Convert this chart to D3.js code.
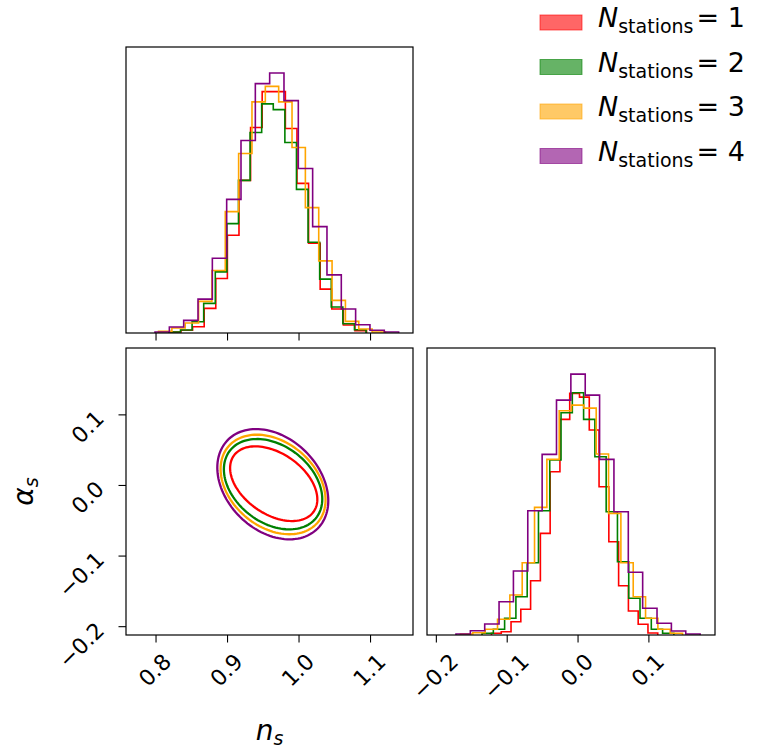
<!DOCTYPE html>
<html>
<head>
<meta charset="utf-8">
<script src="https://cdn.jsdelivr.net/npm/d3@7"></script>
<style>
  body { margin: 0; background: #fff; }
  svg text { font-family: "DejaVu Sans", sans-serif; fill: #000; }
</style>
</head>
<body>
<svg id="chart" width="760" height="749"></svg>
<script>
// ---- values ----
const stations = [1, 2, 3, 4];
const colors = ["red", "green", "orange", "purple"];

// n_s histograms: first bin edge, bin width, counts per bin
const nsStart = [0.8194, 0.8187, 0.8042, 0.7993];
const nsWidth = [0.01622, 0.01622, 0.01867, 0.02004];
const nsCounts = [
  [1, 2.7, 6.3, 24.7, 54.7, 98, 153, 206, 242, 242, 205, 150, 90, 44, 24, 8, 2.3],
  [1, 3, 11.3, 29.7, 61.3, 109.7, 153, 201, 229.7, 224, 191, 144, 91, 54, 26, 9.3, 3.3],
  [1.7, 5, 10, 31.7, 62.7, 121.7, 180, 231.7, 247.3, 231.7, 186, 125.7, 72.3, 32.7, 11.7, 4, 1],
  [1, 6, 12.7, 34, 75, 134, 193, 250, 260.7, 233, 165, 106.7, 58.3, 24, 8.3, 2.7, 1]
];

// alpha_s histograms
const asStart = [-0.1215, -0.1348, -0.1652, -0.1716];
const asWidth = [0.013805, 0.015926, 0.017412, 0.020269];
const asCounts = [
  [1.7, 3.3, 13.3, 25.7, 54.3, 101.7, 163.3, 215.7, 241.7, 238, 205, 148.3, 93.3, 49.3, 24, 10.7, 2],
  [1.7, 5.7, 16.7, 38.3, 72.3, 124.3, 175, 222.3, 242.3, 215.7, 178.3, 123.3, 73.3, 36.7, 16.7, 5.7, 1.7],
  [1, 2.3, 5.7, 15.7, 40, 72.3, 127.7, 175.7, 224.3, 230, 227, 181, 121.7, 72.3, 38.3, 16.7, 5.7, 1.7],
  [1, 4.3, 11, 33.3, 64, 124.3, 180.7, 235, 261, 240, 175.7, 123.3, 62.7, 26.7, 11.7, 4, 1]
];

// 2D contour (single level) as ellipse: centre, half extents, correlation
const ctrNs = [0.9653, 0.9644, 0.9644, 0.9640];
const ctrAs = [0.0018, 0.0011, 0.0007, 0.0011];
const halfNs = [0.0610, 0.0688, 0.0734, 0.0776];
const halfAs = [0.0529, 0.0640, 0.0705, 0.0781];
const rho = [-0.42, -0.33, -0.31, -0.30];

const nsTicks = [0.8, 0.9, 1.0, 1.1];
const asTicks = [-0.2, -0.1, 0.0, 0.1];
const nsRange = [0.7587, 1.1601];
const asRange = [-0.2125, 0.194];

// ---- layout ----
const svg = d3.select("#chart");
const tl = { x0: 126, x1: 413, y0: 47, y1: 333 };   // n_s histogram
const bl = { x0: 126, x1: 413, y0: 348, y1: 635 };  // contour
const br = { x0: 427, x1: 715, y0: 348, y1: 635 };  // alpha_s histogram
const tickFont = 22, tickLen = 7.5;

const xNs = d3.scaleLinear().domain(nsRange).range([tl.x0, tl.x1]);
const yAs = d3.scaleLinear().domain(asRange).range([bl.y1, bl.y0]);
const xAs = d3.scaleLinear().domain(asRange).range([br.x0, br.x1]);

const nsMax = d3.max(nsCounts[3]);
const asMax = d3.max(asCounts[3]);
const yNsHist = d3.scaleLinear().domain([0, 1.1 * nsMax]).range([tl.y1, tl.y0]);
const yAsHist = d3.scaleLinear().domain([0, 1.1 * asMax]).range([br.y1, br.y0]);

const fmt = d3.format(".1f");

function stepPoints(start, width, counts) {
  const pts = [[start, 0]];
  counts.forEach((c, i) => pts.push([start + i * width, c]));
  pts.push([start + counts.length * width, 0]);
  return pts;
}

function drawHist(starts, widths, counts, xs, ys) {
  const line = d3.line()
    .x(d => xs(d[0]))
    .y(d => ys(d[1]))
    .curve(d3.curveStepAfter);
  svg.append("g")
    .selectAll("path")
    .data(stations.map((s, i) => stepPoints(starts[i], widths[i], counts[i])))
    .join("path")
    .attr("d", line)
    .attr("fill", "none")
    .attr("stroke", (d, i) => colors[i])
    .attr("stroke-width", 1.6);
}

// histograms
drawHist(nsStart, nsWidth, nsCounts, xNs, yNsHist);
drawHist(asStart, asWidth, asCounts, xAs, yAsHist);

// contours
const ellipse = i => d3.range(0, 120).map(k => {
  const t = k / 120 * 2 * Math.PI;
  return [
    ctrNs[i] + halfNs[i] * Math.cos(t),
    ctrAs[i] + halfAs[i] * (rho[i] * Math.cos(t) + Math.sqrt(1 - rho[i] * rho[i]) * Math.sin(t))
  ];
});
svg.append("g")
  .selectAll("path")
  .data(stations.map((s, i) => ellipse(i)))
  .join("path")
  .attr("d", d3.line().x(d => xNs(d[0])).y(d => yAs(d[1])).curve(d3.curveLinearClosed))
  .attr("fill", "none")
  .attr("stroke", (d, i) => colors[i])
  .attr("stroke-width", 2.3);

// frames
[tl, bl, br].forEach(p => {
  svg.append("rect")
    .attr("x", p.x0).attr("y", p.y0)
    .attr("width", p.x1 - p.x0).attr("height", p.y1 - p.y0)
    .attr("fill", "none").attr("stroke", "#000").attr("stroke-width", 1.2);
});

// axes
function styleAxis(g) {
  g.select(".domain").remove();
  g.selectAll(".tick line").attr("stroke", "#000").attr("stroke-width", 1.1);
  g.selectAll("text").style("font-size", tickFont + "px").attr("font-family", "DejaVu Sans").attr("fill", "#000");
}

// top-left: ticks only
svg.append("g")
  .attr("transform", `translate(0,${tl.y1})`)
  .call(d3.axisBottom(xNs).tickValues(nsTicks).tickSize(tickLen).tickFormat(""))
  .call(styleAxis);

function rotateBottomLabels(g) {
  g.selectAll(".tick text").each(function() {
    const t = d3.select(this);
    t.attr("y", null).attr("dy", null)
      .attr("text-anchor", "middle")
      .attr("dominant-baseline", "central");
    const half = (this.getComputedTextLength() + tickFont) / (2 * Math.SQRT2);
    t.attr("transform", `translate(-1,${15 + half}) rotate(-45)`);
  });
}

svg.append("g")
  .attr("transform", `translate(0,${bl.y1})`)
  .call(d3.axisBottom(xNs).tickValues(nsTicks).tickSize(tickLen).tickFormat(fmt))
  .call(styleAxis)
  .call(rotateBottomLabels);

svg.append("g")
  .attr("transform", `translate(0,${br.y1})`)
  .call(d3.axisBottom(xAs).tickValues(asTicks).tickSize(tickLen).tickFormat(fmt))
  .call(styleAxis)
  .call(rotateBottomLabels);

svg.append("g")
  .attr("transform", `translate(${bl.x0},0)`)
  .call(d3.axisLeft(yAs).tickValues(asTicks).tickSize(tickLen).tickFormat(fmt))
  .call(styleAxis)
  .call(g => g.selectAll(".tick text").each(function() {
    const t = d3.select(this);
    t.attr("x", null).attr("dy", null)
      .attr("text-anchor", "middle")
      .attr("dominant-baseline", "central");
    const half = (this.getComputedTextLength() + tickFont) / (2 * Math.SQRT2);
    t.attr("transform", `translate(${-18 - half},${-8 + half}) rotate(-45)`);
  }));

// axis labels
const nsLabel = svg.append("text")
  .attr("x", (bl.x0 + bl.x1) / 2).attr("y", 740)
  .attr("text-anchor", "middle");
nsLabel.append("tspan").attr("font-size", 28).attr("font-style", "italic").text("n");
nsLabel.append("tspan").attr("font-size", 19).attr("font-style", "italic").attr("dy", 5).text("s");

const asLabel = svg.append("text")
  .attr("transform", `translate(33,${(bl.y0 + bl.y1) / 2}) rotate(-90)`)
  .attr("text-anchor", "middle");
asLabel.append("tspan").attr("font-size", 28).attr("font-style", "italic").text("α");
asLabel.append("tspan").attr("font-size", 19).attr("font-style", "italic").attr("dy", 5).text("s");

// legend
const legend = svg.append("g");
const rowY = d3.scalePoint().domain(stations).range([27, 160.5]);
stations.forEach((s, i) => {
  const y = rowY(s);
  legend.append("rect")
    .attr("x", 540).attr("y", y - 12)
    .attr("width", 42).attr("height", 15)
    .attr("fill", colors[i]).attr("fill-opacity", 0.6)
    .attr("stroke", colors[i]).attr("stroke-opacity", 0.6);
  const t = legend.append("text").attr("x", 598).attr("y", y);
  t.append("tspan").attr("font-size", 27).attr("font-style", "italic").text("N");
  t.append("tspan").attr("font-size", 19).attr("dy", 6).text("stations");
  t.append("tspan").attr("font-size", 27).attr("dy", -6).attr("dx", 3).text("= " + s);
});
</script>
</body>
</html>
